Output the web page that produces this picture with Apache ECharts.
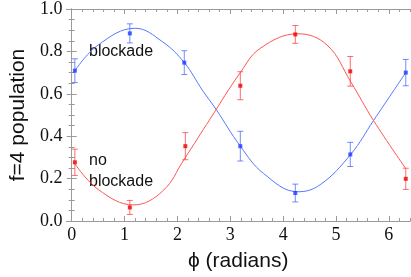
<!DOCTYPE html>
<html>
<head>
<meta charset="utf-8">
<script src="https://cdn.jsdelivr.net/npm/echarts@6/dist/echarts.min.js"></script>
<style>
html,body{margin:0;padding:0;background:#fff;}
#c{width:411px;height:277px;}
</style>
</head>
<body>
<div id="c"></div>
<script>
// ---- data ----
var phiBlue = [0.06, 1.10, 2.13, 3.19, 4.23, 5.27, 6.32];
var popBlue = [0.709, 0.885, 0.747, 0.353, 0.132, 0.314, 0.700];
var errBlue = [0.056, 0.045, 0.056, 0.070, 0.042, 0.057, 0.062];

var phiRed = [0.06, 1.10, 2.15, 3.19, 4.23, 5.27, 6.32];
var popRed = [0.277, 0.064, 0.353, 0.638, 0.880, 0.706, 0.199];
var errRed = [0.062, 0.033, 0.064, 0.066, 0.042, 0.070, 0.050];

// fitted curves
var fitBluePhi = [0.06, 0.50, 1.20, 1.72, 2.13, 2.47, 2.73, 3.19, 3.63, 4.28, 4.70, 5.28, 5.71, 6.32];
var fitBlueVal = [0.709, 0.830, 0.909, 0.845, 0.747, 0.618, 0.527, 0.353, 0.224, 0.138, 0.171, 0.315, 0.474, 0.700];
var fitRedPhi = [0.06, 0.50, 1.17, 1.72, 2.13, 2.62, 3.19, 3.57, 4.28, 4.83, 5.28, 5.71, 6.32];
var fitRedVal = [0.270, 0.149, 0.076, 0.141, 0.292, 0.482, 0.700, 0.815, 0.883, 0.830, 0.656, 0.474, 0.247];

var xMajorTicks = [0, 1, 2, 3, 4, 5, 6];
var yTickLabels = ['0.0', '0.2', '0.4', '0.6', '0.8', '1.0'];

function zip(a, b) { return a.map(function (v, i) { return [v, b[i]]; }); }
function zip3(a, b, c) { return a.map(function (v, i) { return [v, b[i], c[i]]; }); }

var xMinor = [];
for (var k = 0; k <= 32; k++) { xMinor.push(Math.round(k * 0.2 * 10) / 10); }

var frameColor = '#9a9a9a';
var serif = '"Liberation Serif", "DejaVu Serif", serif';
var sans = '"Liberation Sans", Arial, sans-serif';

function baseX(pos, showLabel, ticks, len) {
  return {
    type: 'value', min: -0.1, max: 6.4, position: pos,
    axisLine: { show: true, lineStyle: { color: frameColor, width: 1 } },
    axisTick: { show: true, inside: true, length: len, customValues: ticks, lineStyle: { color: frameColor } },
    axisLabel: showLabel ? { show: true, customValues: xMajorTicks, color: '#111', fontFamily: serif, fontSize: 18, margin: 5 } : { show: false },
    splitLine: { show: false }
  };
}
function baseY(pos, showLabel) {
  return {
    type: 'value', min: 0, max: 1, interval: 0.2, position: pos,
    axisLine: { show: true, lineStyle: { color: frameColor, width: 1 } },
    axisTick: { show: true, inside: true, length: 5, lineStyle: { color: frameColor } },
    minorTick: { show: true, splitNumber: 4, length: 3, lineStyle: { color: frameColor } },
    axisLabel: showLabel ? { show: true, color: '#111', fontFamily: serif, fontSize: 18, margin: 4,
      formatter: function (v) { return yTickLabels[Math.round(v / 0.2)]; } } : { show: false },
    splitLine: { show: false }, minorSplitLine: { show: false }
  };
}

var xAxes = [baseX('bottom', true, xMajorTicks, 5), baseX('bottom', false, xMinor, 3), baseX('top', false, xMajorTicks, 5), baseX('top', false, xMinor, 3)];
xAxes[0].name = '\u03d5 (radians)';
xAxes[0].nameLocation = 'middle';
xAxes[0].nameGap = 30;
xAxes[0].nameTextStyle = { fontFamily: sans, fontSize: 21, color: '#111' };
var yAxes = [baseY('left', true), baseY('right', false)];
yAxes[0].name = 'f=4 population';
yAxes[0].nameLocation = 'middle';
yAxes[0].nameGap = 36;
yAxes[0].nameTextStyle = { fontFamily: sans, fontSize: 21, color: '#111' };

function errSeries(data, color) {
  return {
    type: 'custom', xAxisIndex: 0, yAxisIndex: 0, data: data, z: 3,
    renderItem: function (params, api) {
      var x = api.value(0), y = api.value(1), e = api.value(2);
      var top = api.coord([x, y + e]);
      var bot = api.coord([x, y - e]);
      var hw = 3;
      var st = { stroke: color, lineWidth: 1 };
      return { type: 'group', children: [
        { type: 'line', shape: { x1: top[0], y1: top[1], x2: bot[0], y2: bot[1] }, style: st },
        { type: 'line', shape: { x1: top[0] - hw, y1: top[1], x2: top[0] + hw, y2: top[1] }, style: st },
        { type: 'line', shape: { x1: bot[0] - hw, y1: bot[1], x2: bot[0] + hw, y2: bot[1] }, style: st }
      ] };
    }
  };
}

var chart = echarts.init(document.getElementById('c'), null, { renderer: 'canvas' });
chart.setOption({
  animation: false,
  backgroundColor: '#fff',
  grid: { left: 56, right: 1, top: 6, bottom: 51 },
  xAxis: xAxes,
  yAxis: yAxes,
  graphic: [
    { type: 'text', left: 89, top: 44, style: { text: 'blockade', fontFamily: sans, fontSize: 16, fill: '#111' } },
    { type: 'text', left: 89, top: 150, style: { text: 'no\nblockade', fontFamily: sans, fontSize: 16, lineHeight: 21, fill: '#111' } }
  ],
  series: [
    { type: 'line', data: zip(fitBluePhi, fitBlueVal), smooth: 0.4, symbol: 'none', lineStyle: { color: '#5877ff', width: 1 }, z: 2 },
    { type: 'line', data: zip(fitRedPhi, fitRedVal), smooth: 0.4, symbol: 'none', lineStyle: { color: '#ff5555', width: 1 }, z: 2 },
    errSeries(zip3(phiBlue, popBlue, errBlue), 'rgba(70,100,255,0.75)'),
    errSeries(zip3(phiRed, popRed, errRed), 'rgba(255,60,60,0.75)'),
    { type: 'scatter', data: zip(phiBlue, popBlue), symbol: 'rect', symbolSize: 4, itemStyle: { color: '#1e3cff' }, z: 4 },
    { type: 'scatter', data: zip(phiRed, popRed), symbol: 'rect', symbolSize: 4, itemStyle: { color: '#f00000' }, z: 4 }
  ]
});
</script>
</body>
</html>
